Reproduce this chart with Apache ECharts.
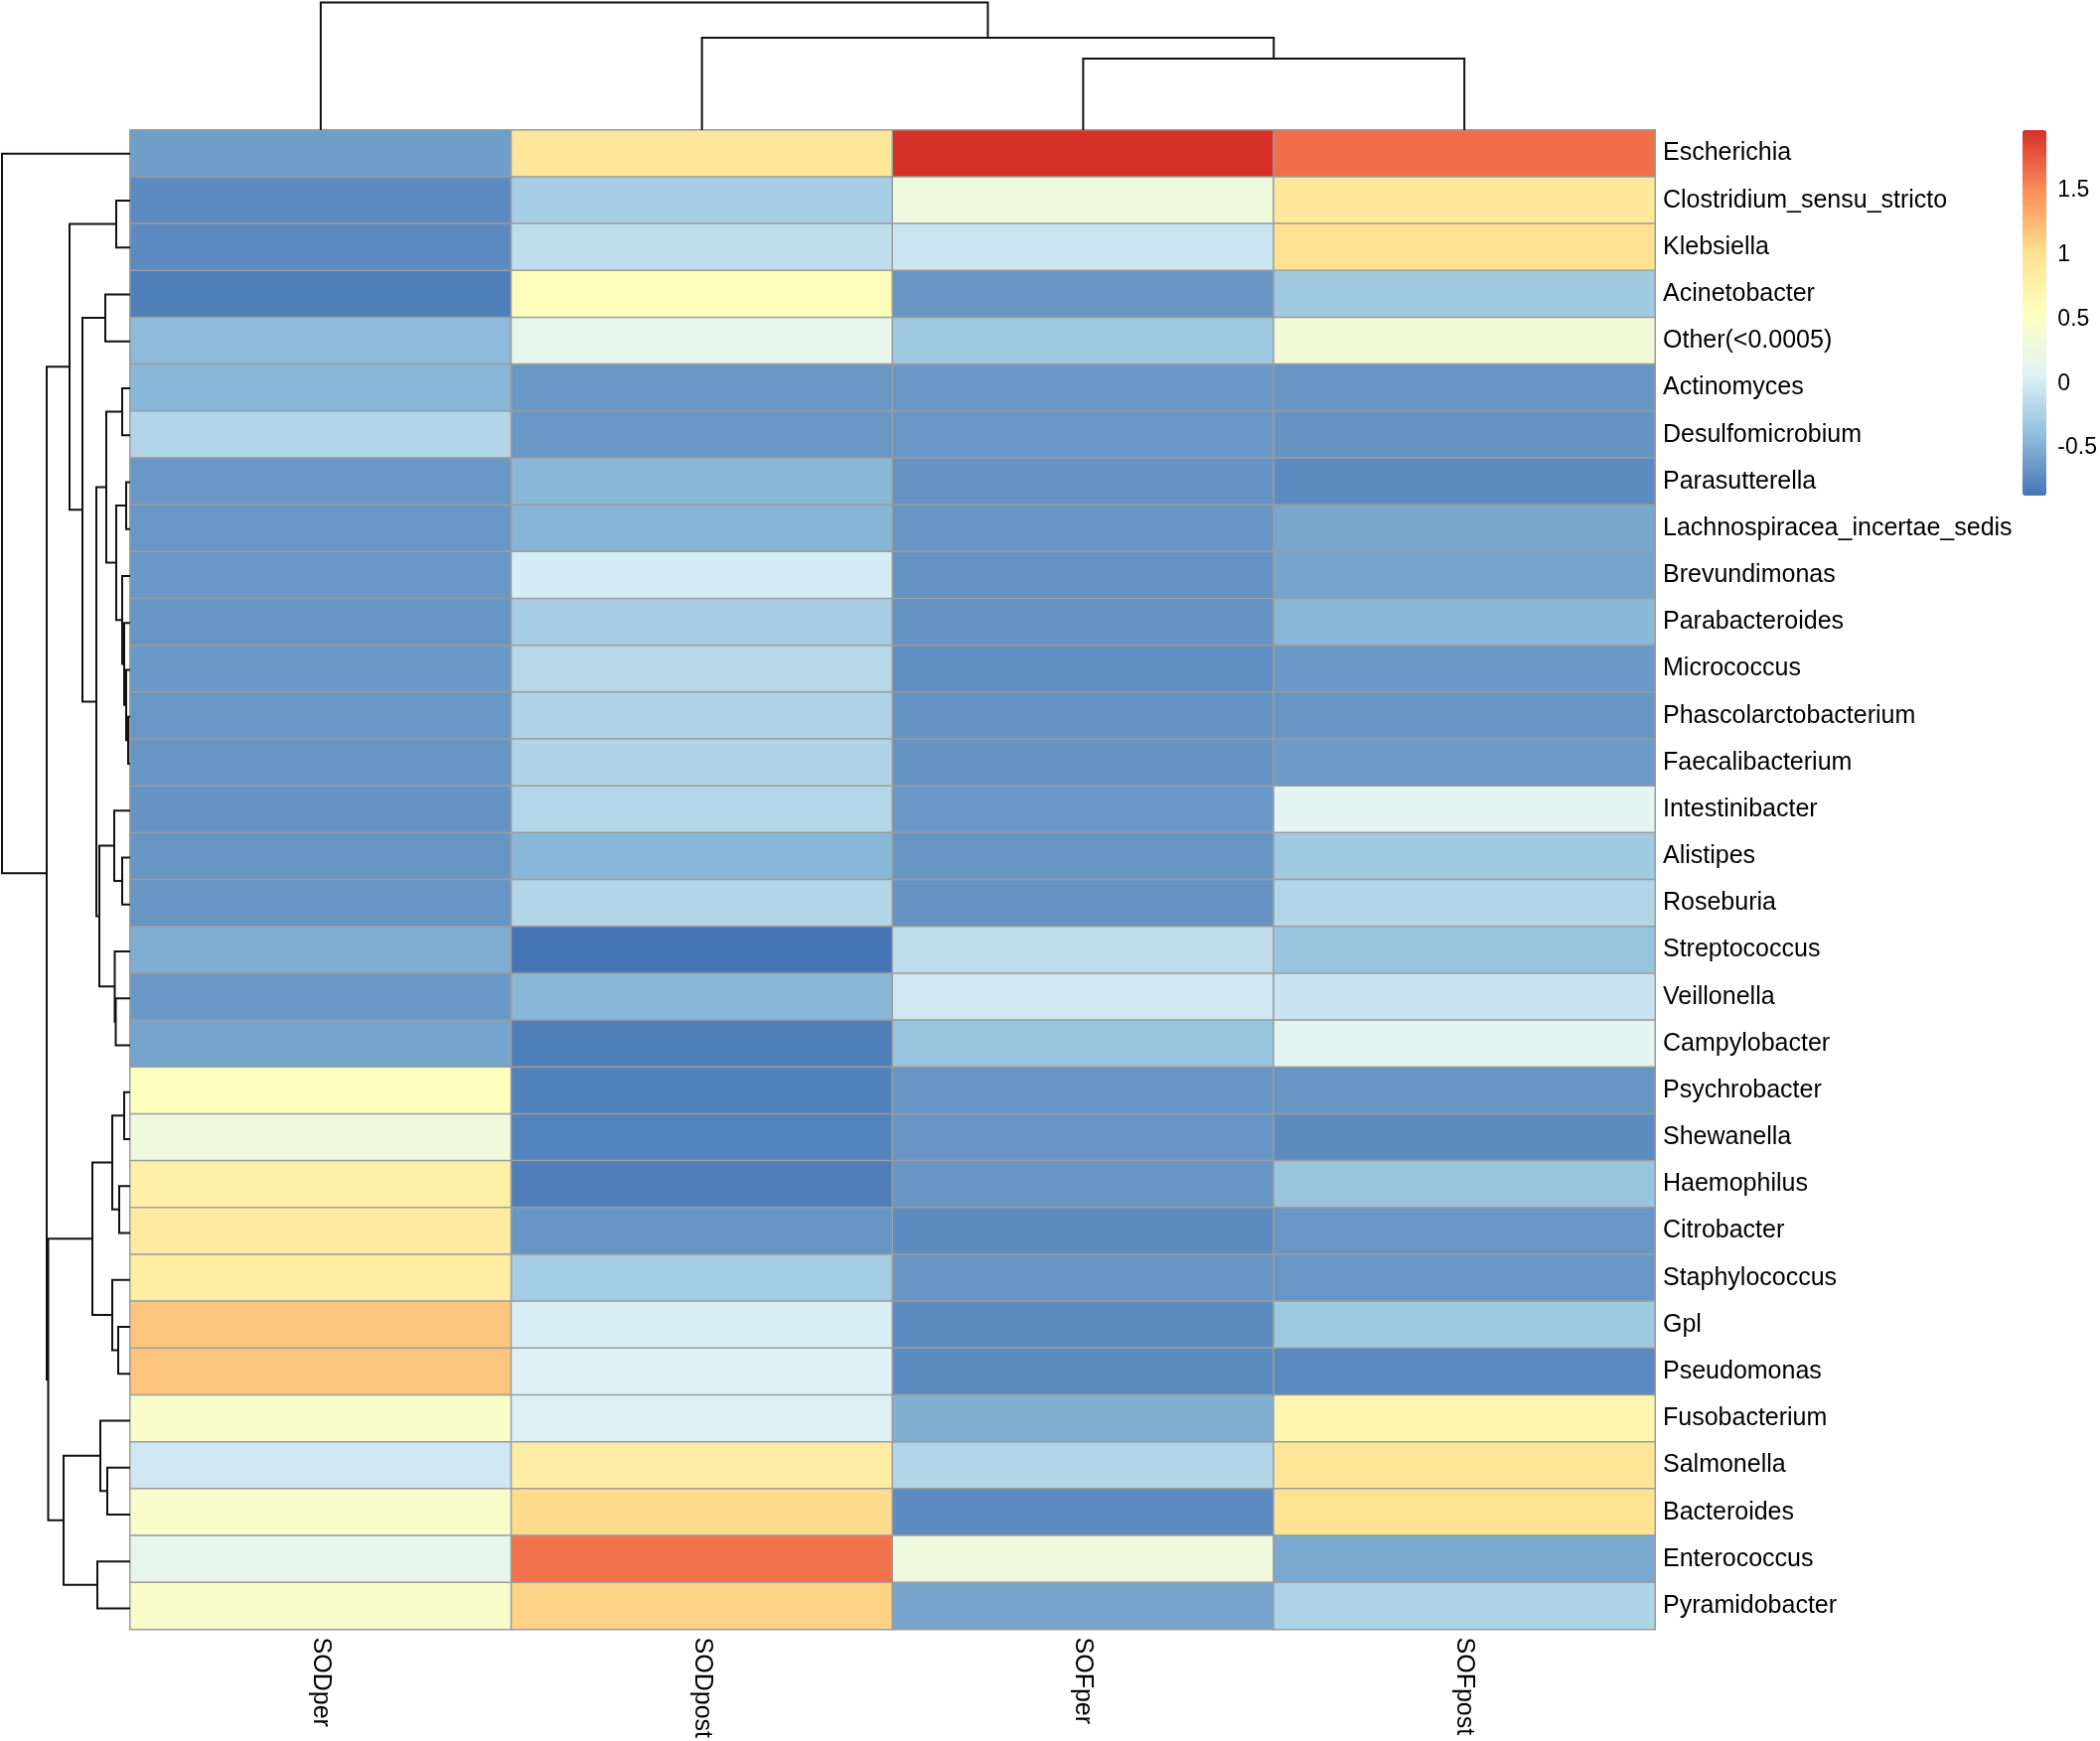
<!DOCTYPE html>
<html>
<head>
<meta charset="utf-8">
<script src="https://cdn.jsdelivr.net/npm/echarts@6/dist/echarts.min.js"></script>
<style>
  html, body { margin: 0; padding: 0; background: #fff; }
  #chart { width: 2114px; height: 1753px; }
</style>
</head>
<body>
<div id="chart"></div>
<script>
const rowLabels = [
  'Escherichia', 'Clostridium_sensu_stricto', 'Klebsiella', 'Acinetobacter', 'Other(<0.0005)',
  'Actinomyces', 'Desulfomicrobium', 'Parasutterella', 'Lachnospiracea_incertae_sedis', 'Brevundimonas',
  'Parabacteroides', 'Micrococcus', 'Phascolarctobacterium', 'Faecalibacterium', 'Intestinibacter',
  'Alistipes', 'Roseburia', 'Streptococcus', 'Veillonella', 'Campylobacter',
  'Psychrobacter', 'Shewanella', 'Haemophilus', 'Citrobacter', 'Staphylococcus',
  'Gpl', 'Pseudomonas', 'Fusobacterium', 'Salmonella', 'Bacteroides',
  'Enterococcus', 'Pyramidobacter'
]
const colLabels = ['SODper', 'SODpost', 'SOFper', 'SOFpost']

// one array per column, same order as rowLabels
const sodPer = [-0.61, -0.73, -0.73, -0.8, -0.43, -0.45, -0.2, -0.65, -0.65, -0.64, -0.66, -0.64, -0.65, -0.66, -0.68, -0.66, -0.66, -0.51, -0.64, -0.57, 0.55, 0.32, 0.8, 0.85, 0.83, 1.17, 1.18, 0.45, -0.03, 0.45, 0.17, 0.45]
const sodPost = [0.91, -0.27, -0.13, 0.58, 0.18, -0.65, -0.65, -0.44, -0.46, 0.02, -0.27, -0.18, -0.21, -0.21, -0.19, -0.45, -0.2, -0.87, -0.44, -0.8, -0.79, -0.78, -0.81, -0.66, -0.28, 0.03, 0.06, 0.05, 0.82, 1.05, 1.63, 1.1]
const sofPer = [1.97, 0.3, -0.05, -0.66, -0.31, -0.65, -0.65, -0.68, -0.66, -0.67, -0.67, -0.71, -0.68, -0.67, -0.64, -0.66, -0.67, -0.13, -0.03, -0.35, -0.66, -0.66, -0.66, -0.72, -0.66, -0.72, -0.72, -0.49, -0.2, -0.73, 0.3, -0.56]
const sofPost = [1.65, 0.9, 1.0, -0.3, 0.33, -0.66, -0.67, -0.72, -0.55, -0.57, -0.44, -0.64, -0.66, -0.63, 0.12, -0.3, -0.2, -0.35, -0.06, 0.12, -0.66, -0.72, -0.35, -0.65, -0.65, -0.31, -0.74, 0.7, 0.93, 0.98, -0.54, -0.22]

// row clustering: numbers are row indexes, 'nK' is merge K
const rowMerges = [
  [12, 13], [11, 'n0'], [10, 'n1'], [7, 8], [20, 21], [5, 6], [9, 'n2'], [15, 16],
  [22, 23], [25, 26], [1, 2], ['n3', 'n6'], [18, 19], [17, 'n12'], [14, 'n7'], ['n4', 'n8'],
  [24, 'n9'], [28, 29], ['n5', 'n11'], [3, 4], [27, 'n17'], ['n14', 'n13'], [30, 31], ['n18', 'n21'],
  ['n15', 'n16'], ['n19', 'n23'], ['n10', 'n25'], ['n20', 'n22'], ['n24', 'n27'], ['n26', 'n28'], [0, 'n29']
]
const rowHeights = [2, 4, 6, 4, 6, 8, 8, 8, 11, 12, 14, 14, 14.5, 15.5, 16, 18, 18, 23, 24, 25, 30, 31, 33, 34, 38, 48, 61, 67, 82.5, 84, 129]

const colMerges = [[2, 3], [1, 'n0'], [0, 'n1']]
const colHeights = [72, 93, 128.5]

const legendTicks = [-0.5, 0, 0.5, 1, 1.5]
const valueMin = -0.87
const valueMax = 1.97

const palette = ['#4575B4', '#91BFDB', '#E0F3F8', '#FFFFBF', '#FEE090', '#FC8D59', '#D73027']
const font = 'Liberation Sans, Arial, sans-serif'

// turn merges into U shaped polylines: [position, height] pairs
function dendroSegments (merges, heights) {
  const pos = []
  const segs = []
  const at = c => typeof c === 'number' ? [c + 0.5, 0] : [pos[+c.slice(1)], heights[+c.slice(1)]]
  merges.forEach(([a, b], k) => {
    const [pa, ha] = at(a)
    const [pb, hb] = at(b)
    const h = heights[k]
    pos.push((pa + pb) / 2)
    segs.push([[pa, ha], [pa, h], [pb, h], [pb, hb]])
  })
  return segs
}

const cols = [sodPer, sodPost, sofPer, sofPost]
const cells = []
cols.forEach((vals, c) => vals.forEach((v, r) => cells.push([c, r, v])))

const rowSegs = dendroSegments(rowMerges, rowHeights).map(s => ({ coords: s.map(([p, h]) => [h, p]) }))
const colSegs = dendroSegments(colMerges, colHeights).map(s => ({ coords: s.map(([p, h]) => [p, h]) }))

const L = 131, T = 131, W = 1535, H = 1512

const chart = echarts.init(document.getElementById('chart'))
chart.setOption({
  animation: false,
  textStyle: { fontFamily: font },
  grid: [
    { left: L, top: T, width: W, height: H },
    { left: 0, top: T, width: L, height: H },
    { left: L, top: 0, width: W, height: T },
    { left: 2036, top: 131, width: 24, height: 368 }
  ],
  xAxis: [
    {
      type: 'category', gridIndex: 0, data: colLabels, position: 'bottom',
      axisLine: { show: false }, axisTick: { show: false },
      axisLabel: { rotate: -90, margin: 8, fontSize: 25, color: '#000', fontFamily: font }
    },
    { type: 'value', gridIndex: 1, min: 0, max: L, inverse: true, show: false },
    { type: 'value', gridIndex: 2, min: 0, max: colLabels.length, show: false },
    { type: 'value', gridIndex: 3, min: 0, max: 1, show: false }
  ],
  yAxis: [
    {
      type: 'category', gridIndex: 0, data: rowLabels, inverse: true, position: 'right',
      axisLine: { show: false }, axisTick: { show: false },
      axisLabel: { margin: 8, fontSize: 25, color: '#000', fontFamily: font, padding: [6, 0, 0, 0] }
    },
    { type: 'value', gridIndex: 1, min: 0, max: rowLabels.length, inverse: true, show: false },
    { type: 'value', gridIndex: 2, min: 0, max: T, show: false },
    {
      type: 'value', gridIndex: 3, min: valueMin, max: valueMax, position: 'right',
      axisLine: { show: false }, axisTick: { show: false }, splitLine: { show: false },
      axisLabel: { customValues: legendTicks, margin: 12, fontSize: 23, color: '#000', fontFamily: font }
    }
  ],
  visualMap: {
    type: 'continuous', min: valueMin, max: valueMax, seriesIndex: 0,
    left: 2036, top: 131, itemWidth: 24, itemHeight: 368, padding: 0,
    calculable: false, text: ['', ''], showLabel: false,
    inRange: { color: palette }
  },
  series: [
    {
      type: 'heatmap', xAxisIndex: 0, yAxisIndex: 0, data: cells,
      itemStyle: { borderColor: '#9c9c9c', borderWidth: 1.5 },
      emphasis: { disabled: true }
    },
    {
      type: 'lines', coordinateSystem: 'cartesian2d', xAxisIndex: 1, yAxisIndex: 1,
      polyline: true, silent: true, data: rowSegs,
      lineStyle: { color: '#111', width: 2, opacity: 1 }
    },
    {
      type: 'lines', coordinateSystem: 'cartesian2d', xAxisIndex: 2, yAxisIndex: 2,
      polyline: true, silent: true, data: colSegs,
      lineStyle: { color: '#111', width: 2, opacity: 1 }
    },
    { type: 'line', xAxisIndex: 3, yAxisIndex: 3, data: [], silent: true }
  ]
})
</script>
</body>
</html>
